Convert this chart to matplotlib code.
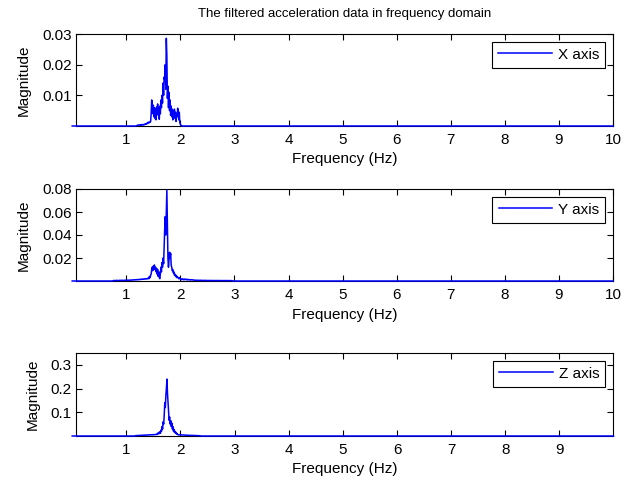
import numpy as np
import matplotlib
matplotlib.use("Agg")
import matplotlib.pyplot as plt

plt.rcParams['font.family'] = ['Liberation Sans', 'DejaVu Sans']

# frequency grid (Hz), 0.01 Hz resolution
freq_step = 0.01
freq_max = 10.0

# X axis: nonzero band starts at 1.20 Hz
x_start = 1.20
x_band = [
    0.0002, 0.0003, 0.0002, 0.0003, 0.0004, 0.0003, 0.0002, 0.0004, 0.0003, 0.0005,
    0.0004, 0.0003, 0.0005, 0.0004, 0.0006, 0.0005, 0.0007, 0.0006, 0.0009, 0.0008,
    0.0012, 0.0010, 0.0013, 0.0011, 0.0012,
    0.0015, 0.0040, 0.0085, 0.0070, 0.0040, 0.0068, 0.0030, 0.0060, 0.0025, 0.0055,
    0.0020, 0.0062, 0.0040, 0.0072, 0.0035, 0.0058, 0.0022, 0.0065, 0.0040, 0.0085,
    0.0060, 0.0100, 0.0075, 0.0140, 0.0100, 0.0160, 0.0150, 0.0200, 0.0120, 0.0286,
    0.0230, 0.0090, 0.0130, 0.0060, 0.0110, 0.0050, 0.0085, 0.0035, 0.0065, 0.0030,
    0.0055, 0.0020, 0.0050, 0.0030, 0.0055, 0.0025, 0.0045, 0.0015, 0.0040, 0.0030,
    0.0058, 0.0050, 0.0020, 0.0045, 0.0010, 0.0006, 0.0003, 0.0001,
]

# Y axis: nonzero band starts at 0.76 Hz
y_start = 0.76
y_band = [
    0.0004, 0.0003, 0.0005, 0.0004, 0.0003, 0.0005, 0.0006, 0.0004, 0.0005, 0.0003,
    0.0004, 0.0006, 0.0005, 0.0004, 0.0006, 0.0005, 0.0007, 0.0005, 0.0006, 0.0004,
    0.0006, 0.0007, 0.0005, 0.0006, 0.0008, 0.0006, 0.0007, 0.0005, 0.0008, 0.0007,
    0.0006, 0.0008, 0.0009, 0.0007, 0.0008, 0.0010, 0.0008, 0.0009, 0.0011, 0.0009,
    0.0010, 0.0012, 0.0010, 0.0011, 0.0013, 0.0011, 0.0012, 0.0014, 0.0012, 0.0013,
    0.0015, 0.0013, 0.0016, 0.0014, 0.0017, 0.0015, 0.0018, 0.0016, 0.0019, 0.0017,
    0.0020, 0.0018, 0.0021, 0.0019,
    0.0020, 0.0030, 0.0020, 0.0040, 0.0030, 0.0050, 0.0060,
    0.0100, 0.0120, 0.0090, 0.0130, 0.0110, 0.0140, 0.0100, 0.0120, 0.0080, 0.0110,
    0.0060, 0.0100, 0.0040, 0.0080, 0.0030, 0.0020, 0.0060, 0.0120, 0.0080, 0.0160,
    0.0120, 0.0200, 0.0150, 0.0300, 0.0450, 0.0560, 0.0400, 0.0600, 0.0790, 0.0500,
    0.0200, 0.0120, 0.0180, 0.0250, 0.0200, 0.0240, 0.0140, 0.0120, 0.0090, 0.0100,
    0.0070, 0.0080, 0.0050, 0.0060, 0.0040, 0.0050, 0.0030, 0.0040, 0.0030, 0.0030,
    0.0020, 0.0030, 0.0020, 0.0020,
    0.0015, 0.0012, 0.0018, 0.0013, 0.0016, 0.0011, 0.0015, 0.0012, 0.0017, 0.0013,
    0.0014, 0.0010, 0.0015, 0.0011, 0.0013, 0.0010, 0.0012, 0.0009, 0.0012, 0.0010,
    0.0011, 0.0008, 0.0010, 0.0009,
    0.0007, 0.0006, 0.0008, 0.0005, 0.0007, 0.0006, 0.0005, 0.0007, 0.0006, 0.0004,
    0.0006, 0.0005, 0.0007, 0.0005, 0.0004, 0.0006, 0.0005, 0.0004, 0.0006, 0.0005,
    0.0004, 0.0005, 0.0006, 0.0004, 0.0005, 0.0004, 0.0003, 0.0005, 0.0004, 0.0005,
    0.0003, 0.0004, 0.0005, 0.0004, 0.0003, 0.0004, 0.0005, 0.0003, 0.0004, 0.0003,
    0.0004, 0.0005, 0.0003, 0.0004, 0.0003, 0.0004, 0.0003, 0.0005, 0.0004, 0.0003,
    0.0004, 0.0003, 0.0004, 0.0003, 0.0004, 0.0003, 0.0004, 0.0003, 0.0004, 0.0003,
    0.0004, 0.0003, 0.0004, 0.0003, 0.0003, 0.0004, 0.0003, 0.0004, 0.0003, 0.0003,
    0.0003, 0.0002,
]

# Z axis: nonzero band starts at 1.16 Hz
z_start = 1.16
z_band = [
    0.0010, 0.0015, 0.0012, 0.0020, 0.0015, 0.0022, 0.0018, 0.0025, 0.0020, 0.0028,
    0.0022, 0.0030, 0.0025, 0.0032, 0.0028, 0.0035, 0.0030, 0.0038, 0.0032, 0.0040,
    0.0035, 0.0042, 0.0038, 0.0045, 0.0040, 0.0048, 0.0042, 0.0050, 0.0045, 0.0052,
    0.0048, 0.0055, 0.0050, 0.0058, 0.0052, 0.0060, 0.0055, 0.0062, 0.0058, 0.0065,
    0.0080, 0.0060, 0.0120, 0.0090, 0.0150, 0.0100, 0.0180, 0.0120, 0.0250, 0.0200,
    0.0400, 0.0300, 0.0600, 0.0500, 0.0900, 0.1400, 0.1200, 0.1700, 0.2000, 0.2400,
    0.1800, 0.1400, 0.1000, 0.0660, 0.0800, 0.0500, 0.0650, 0.0400, 0.0550, 0.0300,
    0.0400, 0.0200, 0.0280, 0.0150, 0.0200, 0.0120, 0.0150, 0.0080, 0.0100, 0.0060,
    0.0055, 0.0050, 0.0052, 0.0048, 0.0050, 0.0045, 0.0048, 0.0042, 0.0045, 0.0040,
    0.0042, 0.0038, 0.0040, 0.0035, 0.0038, 0.0033, 0.0035, 0.0030, 0.0033, 0.0028,
    0.0030, 0.0026, 0.0028, 0.0025, 0.0026, 0.0023, 0.0025, 0.0022, 0.0023, 0.0020,
    0.0022, 0.0019, 0.0020, 0.0018, 0.0019, 0.0017, 0.0018, 0.0016, 0.0015, 0.0012,
    0.0008,
]

labels = ['X axis', 'Y axis', 'Z axis']
ylims = [0.03, 0.08, 0.35]
yticks = [[0.01, 0.02, 0.03], [0.02, 0.04, 0.06, 0.08], [0.1, 0.2, 0.3]]
xticks = [list(range(1, 11)), list(range(1, 11)), list(range(1, 10))]
xmax = [10.0, 10.0, 9.99]

freq = np.round(np.arange(0, int(round(freq_max / freq_step)) + 1) * freq_step, 2)


def spectrum(start, band):
    mag = np.zeros_like(freq)
    i0 = int(round(start / freq_step))
    mag[i0:i0 + len(band)] = band
    return mag


mags = [spectrum(x_start, x_band), spectrum(y_start, y_band), spectrum(z_start, z_band)]

fig = plt.figure(figsize=(6.32, 4.82), dpi=100)
W, H = 632.0, 482.0
boxes = [(34, 126), (189, 281), (353, 436)]

for k in range(3):
    top, bot = boxes[k]
    ax = fig.add_axes([76 / W, 1 - bot / H, (613 - 76) / W, (bot - top) / H])
    ax.plot(freq, mags[k], color='blue', lw=1.1, label=labels[k],
            zorder=3, clip_on=False)
    ax.set_xlim(0.07, xmax[k])
    ax.set_ylim(0, ylims[k])
    ax.set_xticks(xticks[k])
    ax.set_yticks(yticks[k])
    ax.set_yticklabels(['%g' % v for v in yticks[k]])
    ax.tick_params(direction='in', length=4, width=0.8, top=True, right=True,
                   labelsize=11)
    ax.tick_params(axis='x', pad=5)
    ax.tick_params(axis='y', pad=3)
    for s in ax.spines.values():
        s.set_linewidth(0.8)
    ax.set_xlabel('Frequency (Hz)', fontsize=11, labelpad=4)
    ax.set_ylabel('Magnitude', fontsize=11, labelpad=8)
    leg = ax.legend(loc='upper right', fancybox=False, framealpha=1,
                    edgecolor='black', fontsize=11, handlelength=3.5,
                    handletextpad=0.4, borderaxespad=0.5, borderpad=0.4)
    leg.get_frame().set_linewidth(0.8)
    if k == 0:
        ax.set_title('The filtered acceleration data in frequency domain',
                     fontsize=9.5, pad=12)

fig.savefig('out.png', dpi=100)
